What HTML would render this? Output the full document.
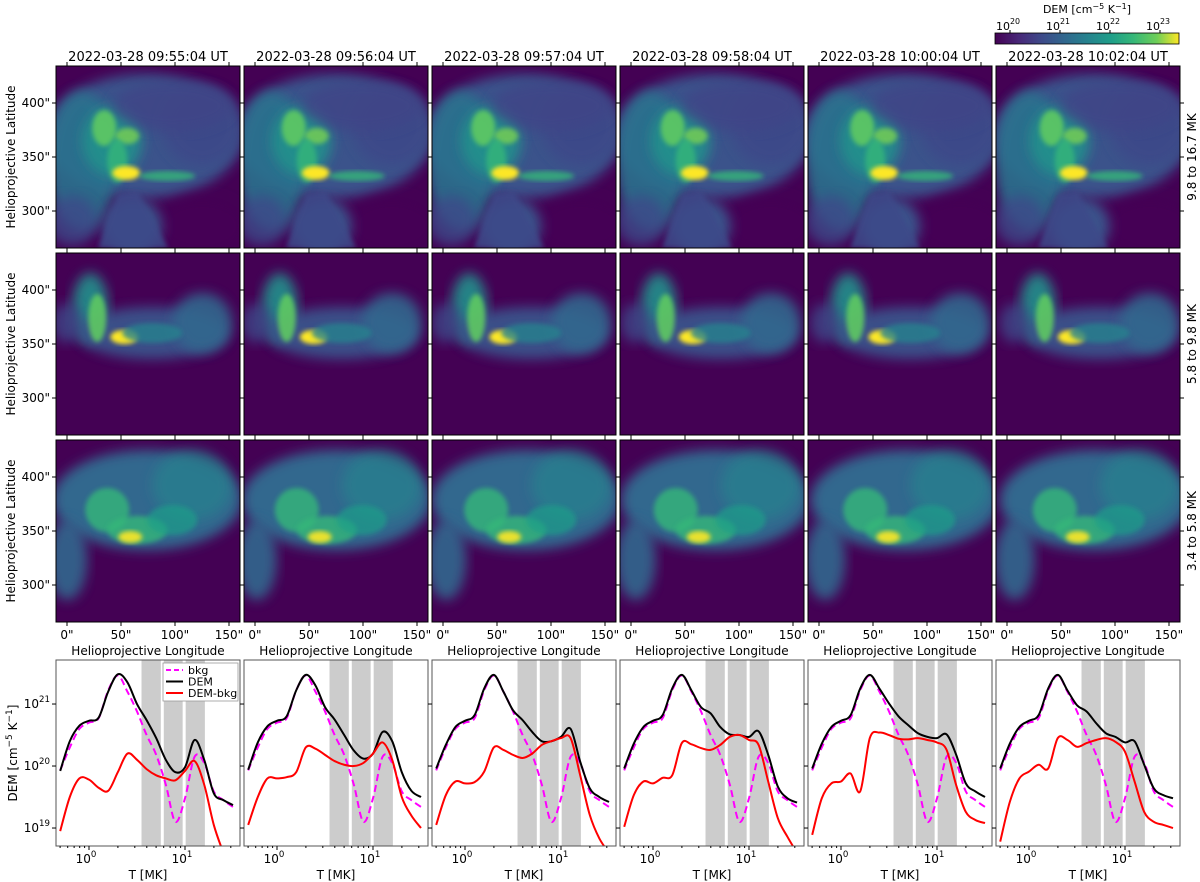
<!DOCTYPE html>
<html><head><meta charset="utf-8"><style>
body{margin:0;background:#fff;}
#root{position:relative;width:1200px;height:882px;overflow:hidden;font-family:"DejaVu Sans","Liberation Sans",sans-serif;color:#000;}
svg text{font-family:"DejaVu Sans","Liberation Sans",sans-serif;}
</style></head><body>
<div id="root">
<svg id="fig" width="1200" height="882" viewBox="0 0 1200 882" xmlns="http://www.w3.org/2000/svg">
<defs>
<linearGradient id="viridis" x1="0" x2="1" y1="0" y2="0">
<stop offset="0" stop-color="#440154"/><stop offset="0.13" stop-color="#482878"/><stop offset="0.25" stop-color="#3e4989"/><stop offset="0.38" stop-color="#31688e"/><stop offset="0.5" stop-color="#26828e"/><stop offset="0.63" stop-color="#1f9e89"/><stop offset="0.75" stop-color="#35b779"/><stop offset="0.88" stop-color="#6ece58"/><stop offset="1" stop-color="#fde725"/>
</linearGradient>
<filter id="blur6" x="-20%" y="-20%" width="140%" height="140%"><feGaussianBlur stdDeviation="6"/></filter>
<filter id="blur3" x="-20%" y="-20%" width="140%" height="140%"><feGaussianBlur stdDeviation="2.5"/></filter>
</defs>
</svg>
</div>
<script>
// ---- line chart data (log10 of DEM) on a temperature grid ----
const logT = [-0.3,-0.2,-0.1,0,0.1,0.2,0.3,0.4,0.5,0.6,0.7,0.8,0.9,1.0,1.1,1.2,1.3,1.4,1.5];
const bkg = [19.93,20.3,20.6,20.7,20.77,21.22,21.46,21.2,20.88,20.5,20.18,19.7,19.1,19.48,20.15,20.05,19.59,19.45,19.34];
const dem1 = [19.92,20.4,20.65,20.73,20.78,21.2,21.48,21.35,21.0,20.74,20.45,20.1,19.9,19.98,20.42,20.1,19.56,19.45,19.37];
const dem2 = [19.94,20.38,20.64,20.73,20.8,21.22,21.47,21.3,20.95,20.75,20.5,20.25,20.12,20.2,20.55,20.4,19.9,19.6,19.5];
const dem3 = [19.96,20.34,20.63,20.73,20.82,21.25,21.47,21.2,20.9,20.74,20.55,20.4,20.4,20.47,20.6,20.07,19.64,19.5,19.42];
const dem4 = [19.96,20.36,20.63,20.73,20.82,21.25,21.47,21.22,20.95,20.85,20.63,20.51,20.5,20.47,20.56,20.18,19.67,19.48,19.41];
const dem5 = [19.96,20.36,20.63,20.73,20.82,21.25,21.47,21.25,21.01,20.8,20.66,20.53,20.47,20.45,20.51,20.18,19.72,19.59,19.5];
const dem6 = [19.96,20.36,20.63,20.73,20.82,21.25,21.47,21.22,20.98,20.88,20.69,20.53,20.47,20.38,20.4,20.02,19.64,19.53,19.48];
const sub1 = [18.95,19.5,19.8,19.78,19.65,19.6,19.9,20.2,20.1,19.95,19.85,19.8,19.77,19.92,20.08,19.7,19.05,18.6,18.2];
const sub2 = [19.05,19.5,19.8,19.8,19.82,19.9,20.3,20.28,20.18,20.08,20.02,20.0,20.05,20.2,20.38,20.1,19.5,19.2,19.0];
const sub3 = [19.05,19.53,19.75,19.72,19.74,19.91,20.3,20.26,20.18,20.13,20.2,20.34,20.4,20.45,20.45,19.85,19.21,18.83,18.6];
const sub4 = [19.02,19.53,19.75,19.72,19.81,19.85,20.37,20.35,20.29,20.26,20.34,20.47,20.5,20.42,20.34,19.75,19.16,18.86,18.6];
const sub5 = [18.89,19.48,19.72,19.75,19.88,19.59,20.45,20.54,20.5,20.44,20.43,20.45,20.42,20.38,20.26,19.69,19.26,19.13,19.08];
const sub6 = [18.78,19.42,19.8,19.91,20.02,19.96,20.45,20.42,20.31,20.37,20.42,20.45,20.39,20.23,19.75,19.26,19.1,19.05,19.0];
const demSeries = [dem1,dem2,dem3,dem4,dem5,dem6];
const subSeries = [sub1,sub2,sub3,sub4,sub5,sub6];
const bands = [[3.4,5.8],[5.8,9.8],[9.8,16.7]];
const titles = ["2022-03-28 09:55:04 UT","2022-03-28 09:56:04 UT","2022-03-28 09:57:04 UT","2022-03-28 09:58:04 UT","2022-03-28 10:00:04 UT","2022-03-28 10:02:04 UT"];
const rowLabels = ["9.8 to 16.7 MK","5.8 to 9.8 MK","3.4 to 5.8 MK"];
const xTickLabels = ['0"','50"','100"','150"'];
const yTickLabels = ['400"','350"','300"'];
const cbarTicks = [20,21,22,23];
const demTicks = [21,20,19];

const NS="http://www.w3.org/2000/svg";
const fig=document.getElementById('fig');
function mk(tag,attrs,parent){const e=document.createElementNS(NS,tag);for(const k in attrs)e.setAttribute(k,attrs[k]);(parent||fig).appendChild(e);return e;}
function txt(s,x,y,size,anchor,parent,extra){const t=mk('text',Object.assign({x:x,y:y,'font-size':size,'text-anchor':anchor||'middle'},extra||{}),parent);t.textContent=s;return t;}
function sup(base,exp,x,y,size,anchor,parent){const t=mk('text',{x:x,y:y,'font-size':size,'text-anchor':anchor||'middle'},parent);const a=document.createElementNS(NS,'tspan');a.textContent=base;t.appendChild(a);const b=document.createElementNS(NS,'tspan');b.setAttribute('dy','-6');b.setAttribute('font-size',size*0.72);b.textContent=exp;t.appendChild(b);return t;}

const colX=[56,244,432,620,808,996], W=184;
const rowY=[66,253,440], H=182;
const P1=660, PH=186;

// heatmap shapes per row: [cx,cy,rx,ry,color,opacity,blur]
const rowShapes=[
 [[92,70,98,62,'#3b528b',1,'b6'],[150,60,40,40,'#3e4a89',0.9,'b6'],[30,95,35,70,'#2c728e',0.9,'b6'],[60,75,30,35,'#21918c',0.9,'b6'],[120,40,60,25,'#414487',0.8,'b6'],
  [150,160,45,30,'#440154',1,'b6'],[80,160,30,28,'#3b528b',1,'b6'],[20,155,25,25,'#3e4a89',0.8,'b6'],
  [52,62,12,18,'#5ec962',0.9,'b3'],[75,70,12,8,'#7ad151',0.8,'b3'],[65,95,10,22,'#35b779',0.8,'b3'],[74,107,14,7,'#fde725',1,'b3'],[115,110,28,5,'#35b779',0.8,'b3']],
 [[38,55,18,35,'#21918c',0.9,'b6'],[100,80,75,26,'#3b528b',0.95,'b6'],[150,70,30,30,'#31688e',0.9,'b6'],[15,70,15,20,'#3e4a89',0.8,'b6'],
  [45,65,9,24,'#5ec962',0.9,'b3'],[72,84,14,7,'#fde725',1,'b3'],[100,80,30,10,'#26828e',0.8,'b3']],
 [[95,60,95,50,'#31688e',1,'b6'],[140,45,40,35,'#26828e',0.7,'b6'],[15,120,20,40,'#31688e',0.9,'b6'],
  [55,70,22,22,'#35b779',0.8,'b3'],[85,90,30,14,'#35b779',0.8,'b3'],[78,97,12,6,'#fde725',0.9,'b3'],[120,80,25,15,'#1f9e89',0.7,'b3']]
];

// ---- image panels ----
for(let r=0;r<3;r++){
 for(let c=0;c<6;c++){
  const x0=colX[c], y0=rowY[r];
  const g=mk('g',{transform:`translate(${x0},${y0})`});
  
  
  const cp=mk('clipPath',{id:'cp'+r+c},g); mk('rect',{x:0,y:0,width:W,height:H},cp);
  const inner=mk('g',{'clip-path':`url(#cp${r}${c})`},g);
  mk('rect',{x:0,y:0,width:W,height:H,fill:'#440154'},inner);
  rowShapes[r].forEach(s=>{
   const e=mk('ellipse',{cx:s[0]+(c-2.5)*1.5,cy:s[1],rx:s[2],ry:s[3],fill:s[4],opacity:s[5],filter:s[6]==='b6'?'url(#blur6)':'url(#blur3)'},inner);
   
   
  });
  if(r===0){ mk('polygon',{points:'62,128 82,126 112,182 42,182',fill:'#3e4a89',opacity:0.85,filter:'url(#blur3)'},inner); }
  const fr=mk('rect',{x:0,y:0,width:W,height:H,fill:'none',stroke:'#000','stroke-width':1},g);
  
  
  [11,65,119,173].forEach((tx,i)=>{
   mk('line',{x1:tx,x2:tx,y1:0,y2:-4,stroke:'#000'},g); mk('line',{x1:tx,x2:tx,y1:H,y2:H+4,stroke:'#000'},g);
   if(r===2){const t=txt(xTickLabels[i],tx,H+17,12,'middle',g);  }
  });
  [37,91,145].forEach((ty,i)=>{
   mk('line',{x1:0,x2:-4,y1:ty,y2:ty,stroke:'#000'},g); mk('line',{x1:W,x2:W+4,y1:ty,y2:ty,stroke:'#000'},g);
   if(c===0){const t=txt(yTickLabels[i],-6,ty+4,12,'end',g);  }
  });
  if(r===0){const t=txt(titles[c],W/2,-5,13,'middle',g);  }
  if(r===2){const t=txt('Helioprojective Longitude',W/2,H+33,12,'middle',g);  }
 }
 const yl=txt('Helioprojective Latitude',0,0,12,'middle',fig,{transform:`translate(15,${rowY[r]+H/2}) rotate(-90)`});
 
 
 const rl=txt(rowLabels[r],0,0,12,'middle',fig,{transform:`translate(1196,${rowY[r]+H/2}) rotate(-90)`});
 
 
}

// ---- colorbar ----
const cb=mk('rect',{x:995,y:33,width:184,height:11,fill:'url(#viridis)',stroke:'#000','stroke-width':0.8});


const cbt=mk('text',{x:1087,y:13,'font-size':11,'text-anchor':'middle'});


cbt.innerHTML='DEM [cm<tspan dy="-4" font-size="8">−5</tspan><tspan dy="4"> K</tspan><tspan dy="-4" font-size="8">−1</tspan><tspan dy="4">]</tspan>';
function cbX(v){return 1010+(v-20)*50;}
cbarTicks.forEach(v=>{const t=sup('10',String(v),cbX(v)-2,30,11,'middle');   mk('line',{x1:cbX(v),x2:cbX(v),y1:33,y2:30,stroke:'#000'});});

// ---- DEM line panels ----
function xs(L){return 33+96*L;}
function ys(v){return (21.71-v)*62;}
function path(xsArr,ysArr){
 const p=xsArr.map((x,i)=>[x,ysArr[i]]);
 let d=`M${p[0][0]},${p[0][1]}`;
 for(let i=0;i<p.length-1;i++){
  const p0=p[Math.max(0,i-1)],p1=p[i],p2=p[i+1],p3=p[Math.min(p.length-1,i+2)];
  const c1=[p1[0]+(p2[0]-p0[0])/6,p1[1]+(p2[1]-p0[1])/6], c2=[p2[0]-(p3[0]-p1[0])/6,p2[1]-(p3[1]-p1[1])/6];
  d+=` C${c1[0]},${c1[1]} ${c2[0]},${c2[1]} ${p2[0]},${p2[1]}`;
 }
 return d;
}
for(let c=0;c<6;c++){
 const g=mk('g',{transform:`translate(${colX[c]},${P1})`});
 
 
 const cp=mk('clipPath',{id:'lp'+c},g); mk('rect',{x:0,y:0,width:W,height:PH},cp);
 const inner=mk('g',{'clip-path':`url(#lp${c})`},g);
 bands.forEach(b=>{const x1=xs(Math.log10(b[0]))+1.5,x2=xs(Math.log10(b[1]))-1.5;
  const br=mk('rect',{x:x1,y:0,width:x2-x1,height:PH,fill:'#cccccc'},inner);
  
  });
 const X=logT.map(xs);
 const lb=mk('path',{d:path(X,bkg.map(ys)),fill:'none',stroke:'#ff00ff','stroke-width':2,'stroke-dasharray':'7,4'},inner);
 
 
 const ld=mk('path',{d:path(X,demSeries[c].map(ys)),fill:'none',stroke:'#000','stroke-width':2},inner);
 
 
 const ls=mk('path',{d:path(X,subSeries[c].map(ys)),fill:'none',stroke:'#ff0000','stroke-width':2},inner);
 
 
 mk('rect',{x:0,y:0,width:W,height:PH,fill:'none',stroke:'#555','stroke-width':1},g);
 [0,1].forEach(L=>{mk('line',{x1:xs(L),x2:xs(L),y1:PH,y2:PH+4,stroke:'#000'},g);
  const t=sup('10',String(L),xs(L)-3,PH+17,12,'middle',g);  });
 for(let dec=-1;dec<=1;dec++)for(let m=2;m<=9;m++){const L=dec+Math.log10(m);const xx=xs(L);if(xx>0&&xx<W)mk('line',{x1:xx,x2:xx,y1:PH,y2:PH+2,stroke:'#000'},g);}
 demTicks.forEach(v=>{mk('line',{x1:0,x2:-4,y1:ys(v),y2:ys(v),stroke:'#000'},g);
  if(c===0){const t=sup('10',String(v),-6,ys(v)+4,12,'end',g);  }});
 const xl=txt('T [MK]',W/2,PH+33,12,'middle',g);
 
 
 if(c===0){
  const lg=mk('g',{transform:'translate(107,3)'},g);
  
  
  mk('rect',{x:0,y:0,width:75,height:38,fill:'#fff',stroke:'#999','stroke-width':0.8},lg);
  [['bkg','#ff00ff','5,3'],['DEM','#000',''],['DEM-bkg','#ff0000','']].forEach((e,i)=>{
   const le=mk('g',{},lg);
   
   
   mk('line',{x1:3,x2:20,y1:7+i*11.5,y2:7+i*11.5,stroke:e[1],'stroke-width':2,'stroke-dasharray':e[2]},le);
   txt(e[0],25,11+i*11.5,11,'start',le);
  });
 }
}
const dy=mk('text',{'font-size':12,'text-anchor':'middle',transform:`translate(17,${P1+PH/2}) rotate(-90)`});


dy.innerHTML='DEM [cm<tspan dy="-5" font-size="9">−5</tspan><tspan dy="5"> K</tspan><tspan dy="-5" font-size="9">−1</tspan><tspan dy="5">]</tspan>';
</script>
</body></html>
